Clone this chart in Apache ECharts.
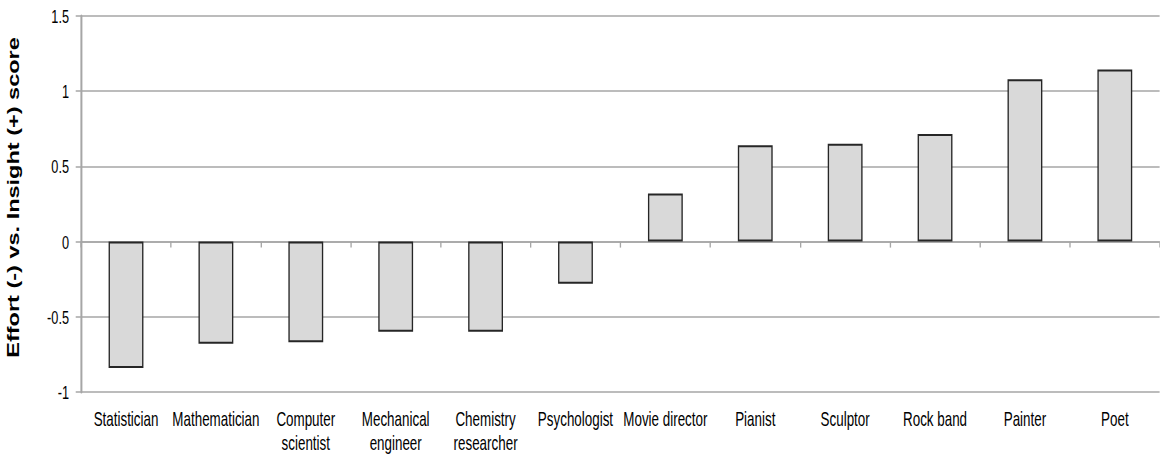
<!DOCTYPE html>
<html>
<head>
<meta charset="utf-8">
<script src="https://cdn.jsdelivr.net/npm/echarts@6/dist/echarts.min.js"></script>
<style>
  html, body { margin: 0; padding: 0; background: #ffffff; overflow: hidden; }
  #wrap { width: 1160px; height: 458px; overflow: hidden; }
  /* the chart is laid out wide and condensed horizontally, giving the tall narrow lettering */
  #chart { width: 1731px; height: 458px; transform: scaleX(0.67); transform-origin: 0 0; }
</style>
</head>
<body>
<div id="wrap"><div id="chart"></div></div>
<script>
// Professions ordered from effort-driven to insight-driven
const categories = [
  'Statistician', 'Mathematician', 'Computer\nscientist', 'Mechanical\nengineer',
  'Chemistry\nresearcher', 'Psychologist', 'Movie director', 'Pianist',
  'Sculptor', 'Rock band', 'Painter', 'Poet'
];
const scores = [-0.84, -0.68, -0.67, -0.60, -0.60, -0.28, 0.32, 0.64, 0.65, 0.715, 1.08, 1.145];
const yTicks = { min: -1, max: 1.5, step: 0.5 };

const textFont = 'Liberation Sans, Arial, sans-serif';
const gridGrey = '#a6a6a6';

const chart = echarts.init(document.getElementById('chart'), null, { renderer: 'svg' });
chart.setOption({
  animation: false,
  backgroundColor: '#ffffff',
  grid: { left: 115, top: 16, right: -4, bottom: 66, containLabel: false },
  xAxis: [
    {
      // axis line at zero with tick marks between categories
      type: 'category',
      data: categories,
      axisLine: { onZero: true, lineStyle: { color: gridGrey, width: 1.5 } },
      axisTick: { show: true, interval: 0, inside: false, length: 6, lineStyle: { color: gridGrey, width: 2 } },
      axisLabel: { show: false, interval: 0 },
      splitLine: { show: false }
    },
    {
      // category names along the bottom edge
      type: 'category',
      data: categories,
      position: 'bottom',
      axisLine: { show: false },
      axisTick: { show: false },
      axisLabel: {
        show: true,
        interval: 0,
        margin: 16,
        color: '#000000',
        fontFamily: textFont,
        fontSize: 20,
        lineHeight: 24
      },
      splitLine: { show: false }
    }
  ],
  yAxis: {
    type: 'value',
    min: yTicks.min,
    max: yTicks.max,
    interval: yTicks.step,
    name: 'Effort (-) vs. Insight (+) score',
    nameLocation: 'middle',
    nameGap: 89,
    nameRotate: 90,
    nameTextStyle: {
      color: '#000000',
      fontFamily: textFont,
      fontWeight: 'bold',
      fontSize: 23.5,
      padding: [0, 0, 0, 13]
    },
    axisLine: { show: true, onZero: false, lineStyle: { color: gridGrey, width: 3 } },
    axisTick: { show: true, inside: false, length: 8, lineStyle: { color: gridGrey, width: 1.5 } },
    axisLabel: {
      color: '#000000',
      fontFamily: textFont,
      fontSize: 19,
      margin: 18,
      formatter: v => String(v)
    },
    splitLine: { show: true, lineStyle: { color: gridGrey, width: 1.5 } }
  },
  series: [
    {
      type: 'bar',
      xAxisIndex: 0,
      data: scores,
      barWidth: 52,
      itemStyle: { color: '#d9d9d9', borderColor: '#262626', borderWidth: 2 },
      silent: true
    }
  ]
});
</script>
</body>
</html>
